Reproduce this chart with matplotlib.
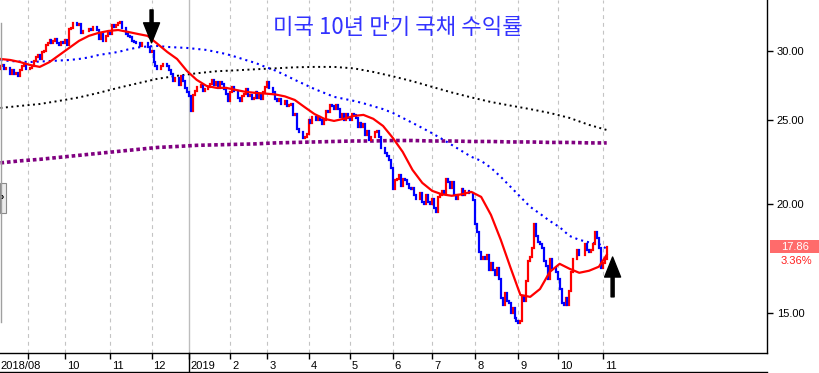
import numpy as np
import matplotlib
matplotlib.use("Agg")
import matplotlib.pyplot as plt
import matplotlib.transforms as mtransforms
from matplotlib.lines import Line2D
from matplotlib.patches import Rectangle, FancyArrowPatch

plt.rcParams['font.family'] = ['Liberation Sans', 'DejaVu Sans']

# trading days per month on screen (Aug 2018 partial ... Nov 2019 partial)
month_labels = ["2018/08", "", "10", "11", "12", "2019", "2", "3", "4", "5", "6", "7", "8", "9", "10", "11"]
month_bars = [14, 19, 23, 21, 19, 21, 19, 21, 21, 22, 20, 22, 22, 20, 23, 3]

# US 10y yield x10, daily closes
first_open = 28.6
closes = [
    # 2018-08
    28.8, 28.9, 28.6, 28.7, 28.7, 28.2, 28.5, 28.2, 28.3, 28.1, 28.5, 28.8, 28.9, 28.6,
    # 09
    28.6, 28.7, 28.8, 29.2, 29.5, 29.7, 29.4, 29.9, 30.0, 30.5, 30.6, 30.9, 30.6, 30.8, 31.0, 30.6, 30.5, 30.7, 30.6,
    # 10
    30.9, 30.5, 31.8, 31.9, 32.3, 32.3, 32.1, 32.2, 31.5, 31.6, 31.6, 31.6, 31.8, 31.7, 32.0, 32.0, 31.7, 31.0, 31.4, 30.8, 30.8, 31.2, 31.5,
    # 11
    31.4, 32.1, 32.0, 32.1, 32.3, 32.4, 31.9, 31.9, 31.4, 31.2, 31.1, 30.8, 30.7, 30.6, 30.6, 30.4, 30.6, 30.6, 30.6, 30.3, 29.9,
    # 12
    30.0, 29.1, 28.8, 28.6, 28.6, 28.8, 29.0, 29.0, 28.8, 28.5, 28.2, 27.7, 27.9, 27.9, 27.4, 28.1, 27.7, 27.2, 26.9,
    # 2019-01
    26.6, 25.6, 26.7, 27.0, 27.3, 27.3, 27.4, 27.0, 27.1, 27.1, 27.3, 27.5, 27.8, 27.4, 27.6, 27.2, 27.6, 27.5, 27.1, 26.8, 26.3,
    # 02
    26.9, 27.3, 27.0, 27.0, 26.5, 26.3, 26.6, 26.8, 27.1, 26.6, 26.7, 26.4, 26.5, 26.9, 26.5, 26.7, 26.4, 26.9, 27.3,
    # 03
    27.6, 27.2, 27.2, 26.9, 26.4, 26.3, 26.4, 26.1, 26.1, 26.3, 25.9, 26.0, 26.1, 25.3, 25.4, 24.4, 24.2, 24.2, 23.8, 23.9, 24.1,
    # 04
    25.0, 24.8, 25.2, 25.2, 25.0, 25.2, 25.0, 24.7, 25.0, 25.6, 25.5, 26.0, 25.9, 25.7, 26.0, 25.7, 25.2, 25.4, 25.0, 25.4, 25.1,
    # 05
    25.0, 25.4, 25.3, 25.1, 24.5, 24.8, 24.5, 24.7, 24.0, 24.3, 23.7, 23.9, 23.9, 24.2, 24.3, 23.9, 23.2, 23.2, 22.9, 22.7, 22.5, 22.0,
    # 06
    20.8, 21.3, 21.4, 21.6, 21.0, 21.4, 21.3, 21.1, 20.9, 20.8, 20.9, 20.5, 20.3, 20.3, 20.6, 20.1, 20.0, 20.5, 20.1, 20.0,
    # 07
    20.3, 19.8, 19.6, 20.4, 20.5, 20.7, 20.6, 21.4, 21.2, 20.9, 21.2, 20.5, 20.3, 20.5, 20.5, 20.8, 20.5, 20.7, 20.7, 20.6, 20.6, 20.2,
    # 08
    19.0, 18.6, 17.6, 17.3, 17.4, 17.3, 17.5, 16.8, 17.1, 16.8, 16.6, 16.9, 16.4, 15.6, 15.3, 15.8, 15.5, 15.4, 15.0, 15.2, 14.8, 14.7,
    # 09
    14.6, 14.7, 15.7, 15.5, 16.3, 17.2, 17.4, 17.8, 19.0, 18.4, 18.1, 18.0, 17.8, 17.2, 17.0, 16.4, 17.3, 16.9, 16.9, 16.7,
    # 10
    16.4, 16.0, 15.4, 15.3, 15.6, 15.3, 15.9, 16.7, 17.3, 17.3, 17.7, 17.5, 17.5, 17.5, 18.0, 17.7, 17.6, 17.7, 18.0, 18.6, 18.3, 17.8, 16.9,
    # 11
    17.1, 17.28, 17.86,
]

# moving averages, read every 5 bars (short/mid) and every 10 bars (long)
ma_idx = list(range(0, 310, 5)) + [309]
ma_red = [29.37, 29.29, 29.13, 28.91, 28.76, 29.13, 29.68, 30.24, 30.81, 31.22,
          31.47, 31.63, 31.71, 31.55, 31.38, 31.22, 30.57, 29.92, 29.37, 28.46,
          27.79, 27.35, 27.21, 27.21, 27.06, 26.92, 26.85, 26.80, 26.74, 26.60,
          26.35, 25.86, 25.39, 25.07, 24.93, 25.07, 25.26, 25.33, 25.07, 24.60,
          23.83, 22.97, 21.90, 21.16, 20.72, 20.53, 20.45, 20.53, 20.66, 20.39,
          19.44, 18.20, 16.90, 15.73, 15.65, 15.98, 16.72, 17.08, 16.86, 16.68,
          16.77, 16.95, 17.49]
ma_blue = [29.29, 29.21, 29.17, 29.13, 29.17, 29.21, 29.25, 29.29, 29.37, 29.49,
           29.68, 29.80, 29.92, 30.12, 30.28, 30.36, 30.40, 30.32, 30.28, 30.24,
           30.16, 30.08, 29.92, 29.76, 29.53, 29.29, 29.06, 28.76, 28.49, 28.15,
           27.79, 27.46, 27.13, 26.85, 26.57, 26.43, 26.29, 26.12, 25.92, 25.72,
           25.46, 25.13, 24.80, 24.47, 24.13, 23.77, 23.40, 23.03, 22.67, 22.43,
           22.02, 21.50, 20.94, 20.39, 19.86, 19.50, 19.13, 18.82, 18.39, 18.20,
           18.08, 18.01, 17.77]
long_idx = list(range(0, 310, 10)) + [309]
ma_black = [25.80, 25.94, 26.07, 26.29, 26.53, 26.85, 27.21, 27.54, 27.87, 28.09,
            28.28, 28.43, 28.50, 28.58, 28.65, 28.73, 28.76, 28.76, 28.65, 28.38,
            28.05, 27.69, 27.28, 26.88, 26.53, 26.21, 25.96, 25.72, 25.46, 25.13,
            24.67, 24.34]
ma_purple = [22.31, 22.43, 22.52, 22.64, 22.76, 22.88, 23.00, 23.12, 23.24, 23.30,
             23.37, 23.40, 23.43, 23.46, 23.52, 23.55, 23.58, 23.61, 23.64, 23.64,
             23.67, 23.67, 23.64, 23.64, 23.61, 23.61, 23.58, 23.58, 23.55, 23.55,
             23.52, 23.52]

title = "미국 10년 만기 국채 수익률"

W, H = 820, 373
fig = plt.figure(figsize=(W / 100, H / 100), dpi=100)
ax = fig.add_axes([0, 20 / H, 767 / W, 353 / H])
ax.set_yscale('log')
ax.set_xlim(-0.25, 390.7)
ax.set_ylim(13.49, 34.33)

# month grid lines
starts = np.cumsum([0] + month_bars[:-1])
for s, lab in zip(starts[1:], month_labels[1:]):
    if lab == "2019":
        ax.axvline(s, color='#bdbdbd', lw=1.0, zorder=0)
    else:
        ax.axvline(s, color='#c4c4c4', lw=0.8, ls=(0, (3.5, 3.5)), zorder=0)

# daily bars
c = np.array(closes)
x = np.arange(len(c))
prev = np.r_[first_open, c[:-1]]
lo = np.minimum(prev, c)
hi = np.maximum(prev, c)
up = c >= prev
ax.vlines(x[up], lo[up], hi[up], color='#ff0000', lw=1.6, capstyle='projecting', zorder=3)
ax.vlines(x[~up], lo[~up], hi[~up], color='#0000ff', lw=1.6, capstyle='projecting', zorder=3)

# moving averages
ax.plot(long_idx, ma_purple, color='#800080', lw=2.6, ls=(0, (1, 0.8)), zorder=2)
ax.plot(long_idx, ma_black, color='black', lw=1.4, ls=(0, (1, 1.8)), zorder=2)
ax.plot(ma_idx, ma_blue, color='#0000ff', lw=1.5, ls=(0, (1, 1.9)), zorder=2)
ax.plot(ma_idx, ma_red, color='#ff0000', lw=1.6, zorder=4)

# axes
for side in ['top', 'left']:
    ax.spines[side].set_visible(False)
ax.spines['right'].set_linewidth(1.0)
ax.spines['bottom'].set_linewidth(1.0)
ax.yaxis.tick_right()
ax.yaxis.set_minor_locator(matplotlib.ticker.NullLocator())
ax.set_yticks([15, 20, 25, 30])
ax.set_yticklabels(["%.2f" % v for v in [15, 20, 25, 30]])
ax.tick_params(axis='y', length=4, width=1, pad=3, labelsize=8, colors='black')
ax.set_xticks(starts[1:])
ax.set_xticklabels([])
ax.tick_params(axis='x', length=4, width=1, colors='black')

# month labels to the right of each tick
trans = mtransforms.blended_transform_factory(ax.transData, ax.transAxes)
lab_off = mtransforms.ScaledTranslation(2 / 100, 0, fig.dpi_scale_trans)
ylab = -13 / 353
ax.text(-0.25, ylab, month_labels[0], transform=trans, ha='left', va='center', fontsize=8)
for s, lab in zip(starts[1:], month_labels[1:]):
    if lab:
        ax.text(s, ylab, lab, transform=trans + lab_off, ha='left', va='center', fontsize=8)
    if lab == "2019":
        ax.plot([s, s], [0, -19 / 353], transform=trans, color='black', lw=1, clip_on=False)

# bottom border of date strip and left panel edge
fig.add_artist(Line2D([0, 767 / W], [1.5 / H, 1.5 / H], color='black', lw=1))
fig.add_artist(Line2D([0.5 / W, 0.5 / W], [1 - 23 / H, 1 - 322 / H], color='#a0a0a0', lw=1))
fig.add_artist(Rectangle((0, 1 - 213 / H), 6 / W, 30 / H, fc='#ececec', ec='#8a8a8a', lw=0.8))
fig.text(2.5 / W, 1 - 197 / H, "›", fontsize=7, fontweight='bold', ha='center', va='center')

# last price box
ypix = ax.transData.transform((0, c[-1]))[1]
fig.add_artist(Rectangle((770 / W, (ypix - 6.5) / H), 50 / W, 13 / H, fc='#ff6b6b', ec='none'))
fig.text(795 / W, ypix / H, "%.2f" % c[-1], color='white', fontsize=8, ha='center', va='center')
chg = (c[-1] / c[-2] - 1) * 100
fig.text(796 / W, (ypix - 14) / H, "%.2f%%" % chg, color='#ff2020', fontsize=8, ha='center', va='center')

# title
fig.text(398 / W, 1 - 27 / H, title, family=['Noto Sans CJK KR', 'DejaVu Sans'],
         color='#3333ff', fontsize=16, ha='center', va='center')

# arrows
arrow_style = 'simple,head_length=1.44,head_width=1.15,tail_width=0.22'
down = FancyArrowPatch((starts[4], 33.44), (starts[4], 30.65), arrowstyle=arrow_style,
                       mutation_scale=10, color='black', shrinkA=0, shrinkB=0, zorder=6)
up_arrow = FancyArrowPatch((len(c) + 2, 15.65), (len(c) + 2, 17.39), arrowstyle=arrow_style,
                           mutation_scale=10, color='black', shrinkA=0, shrinkB=0, zorder=6)
ax.add_patch(down)
ax.add_patch(up_arrow)

fig.savefig("out.png", dpi=100)
